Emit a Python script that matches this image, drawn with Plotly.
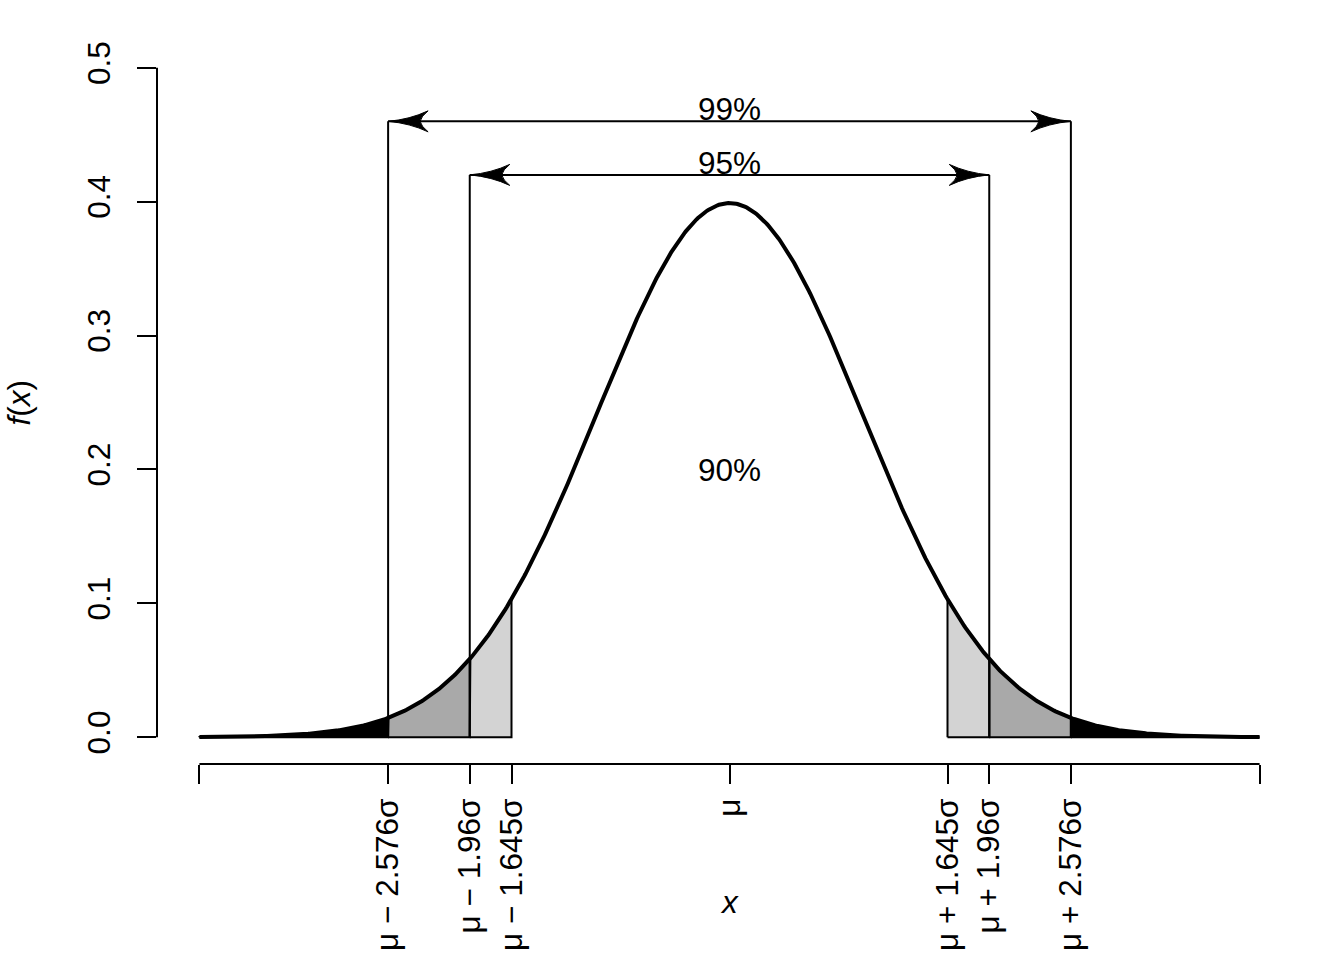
import numpy as np
import plotly.graph_objects as go

# ---- data ----
x_min, x_max = -4.0, 4.0
crit = [1.645, 1.96, 2.576]                       # z critical values
conf_arrow_z = [2.576, 1.96]                      # arrow half-widths
conf_arrow_y = [0.46, 0.42]                       # arrow heights
conf_arrow_lab = ["99%", "95%"]
center_label = "90%"
center_label_y = 0.2
x_tickvals = [-4, -2.576, -1.96, -1.645, 0, 1.645, 1.96, 2.576, 4]
x_ticktext = ["", "μ − 2.576σ", "μ − 1.96σ", "μ − 1.645σ", "μ",
              "μ + 1.645σ", "μ + 1.96σ", "μ + 2.576σ", ""]
y_tickvals = [0.0, 0.1, 0.2, 0.3, 0.4, 0.5]
y_ticktext = ["0.0", "0.1", "0.2", "0.3", "0.4", "0.5"]


def dnorm(x):
    return np.exp(-0.5 * x ** 2) / np.sqrt(2 * np.pi)


FONT = "Liberation Sans, Arial, sans-serif"
FS = 31.5

fig = go.Figure()


def region(a, b, color):
    xs = np.linspace(a, b, 200)
    px = np.concatenate([[a], xs, [b, a]])
    py = np.concatenate([[0], dnorm(xs), [0, 0]])
    fig.add_trace(go.Scatter(x=px, y=py, mode="lines", fill="toself",
                             fillcolor=color, line=dict(color="black", width=2),
                             hoverinfo="skip", showlegend=False))


fills = ["black", "#A9A9A9", "#D3D3D3"]
bounds = [x_max] + crit[::-1]  # 4, 2.576, 1.96, 1.645
for i in range(3):
    hi, lo = bounds[i], bounds[i + 1]
    region(-hi, -lo, fills[i])
    region(lo, hi, fills[i])

# density curve
xs = np.linspace(x_min, x_max, 801)
fig.add_trace(go.Scatter(x=xs, y=dnorm(xs), mode="lines",
                         line=dict(color="black", width=4),
                         hoverinfo="skip", showlegend=False))

# vertical lines for arrows
vx, vy = [], []
for z, h in zip(conf_arrow_z, conf_arrow_y):
    for s in (-1, 1):
        vx += [s * z, s * z, None]
        vy += [0, h, None]
    vx += [-z, z, None]
    vy += [h, h, None]
fig.add_trace(go.Scatter(x=vx, y=vy, mode="lines",
                         line=dict(color="black", width=2),
                         hoverinfo="skip", showlegend=False))

shapes = []
# arrowheads (pixel-sized, anchored at data points)
head_left = "M0,0 Q22,2 40,10.5 Q33,5 32,0 Q33,-5 40,-10.5 Q22,-2 0,0 Z"
head_right = "M0,0 Q-22,2 -40,10.5 Q-33,5 -32,0 Q-33,-5 -40,-10.5 Q-22,-2 0,0 Z"
for z, h in zip(conf_arrow_z, conf_arrow_y):
    for s, p in ((-1, head_left), (1, head_right)):
        shapes.append(dict(type="path", xref="x", yref="y",
                           xsizemode="pixel", ysizemode="pixel",
                           xanchor=s * z, yanchor=h, path=p,
                           fillcolor="black", line=dict(color="black", width=1)))

# axis lines (R style)
shapes.append(dict(type="line", xref="x", yref="paper", x0=x_min, x1=x_max,
                   y0=0, y1=0, line=dict(color="black", width=2)))
shapes.append(dict(type="line", xref="paper", yref="y", x0=0, x1=0,
                   y0=y_tickvals[0], y1=y_tickvals[-1],
                   line=dict(color="black", width=2)))

annotations = []
for h, lab in zip(conf_arrow_y, conf_arrow_lab):
    annotations.append(dict(x=0, y=h, xref="x", yref="y", text=lab,
                            showarrow=False, yanchor="middle", yshift=12,
                            font=dict(family=FONT, size=FS, color="black")))
annotations.append(dict(x=0, y=center_label_y, xref="x", yref="y",
                        text=center_label, showarrow=False, yanchor="middle",
                        yshift=-1,
                        font=dict(family=FONT, size=FS, color="black")))
annotations.append(dict(x=0, y=0, xref="x", yref="paper", text="<i>x</i>",
                        showarrow=False, yanchor="middle", yshift=-138,
                        font=dict(family=FONT, size=FS, color="black")))
annotations.append(dict(x=0, y=0.5, xref="paper", yref="paper",
                        text="<i>f</i>(<i>x</i>)", textangle=-90,
                        showarrow=False, xanchor="center", xshift=-139,
                        font=dict(family=FONT, size=FS, color="black")))

fig.update_layout(
    width=1344, height=960,
    margin=dict(l=157, r=42, t=41, b=196, pad=0, autoexpand=False),
    paper_bgcolor="white", plot_bgcolor="white",
    shapes=shapes, annotations=annotations,
    font=dict(family=FONT, size=FS, color="black"),
    xaxis=dict(range=[-4.32, 4.32], showgrid=False, zeroline=False,
               showline=False, ticks="outside", ticklen=19, tickwidth=2,
               tickcolor="black", tickvals=x_tickvals, ticktext=x_ticktext,
               tickangle=-90, ticklabelstandoff=2, automargin=False,
               tickfont=dict(family=FONT, size=FS, color="black")),
    yaxis=dict(range=[-0.02, 0.52], showgrid=False, zeroline=False,
               showline=False, ticks="outside", ticklen=19, tickwidth=2,
               tickcolor="black", tickvals=y_tickvals, ticktext=y_ticktext,
               tickangle=-90, ticklabelstandoff=14, automargin=False,
               tickfont=dict(family=FONT, size=FS, color="black")),
)

fig.write_html("out.html")
